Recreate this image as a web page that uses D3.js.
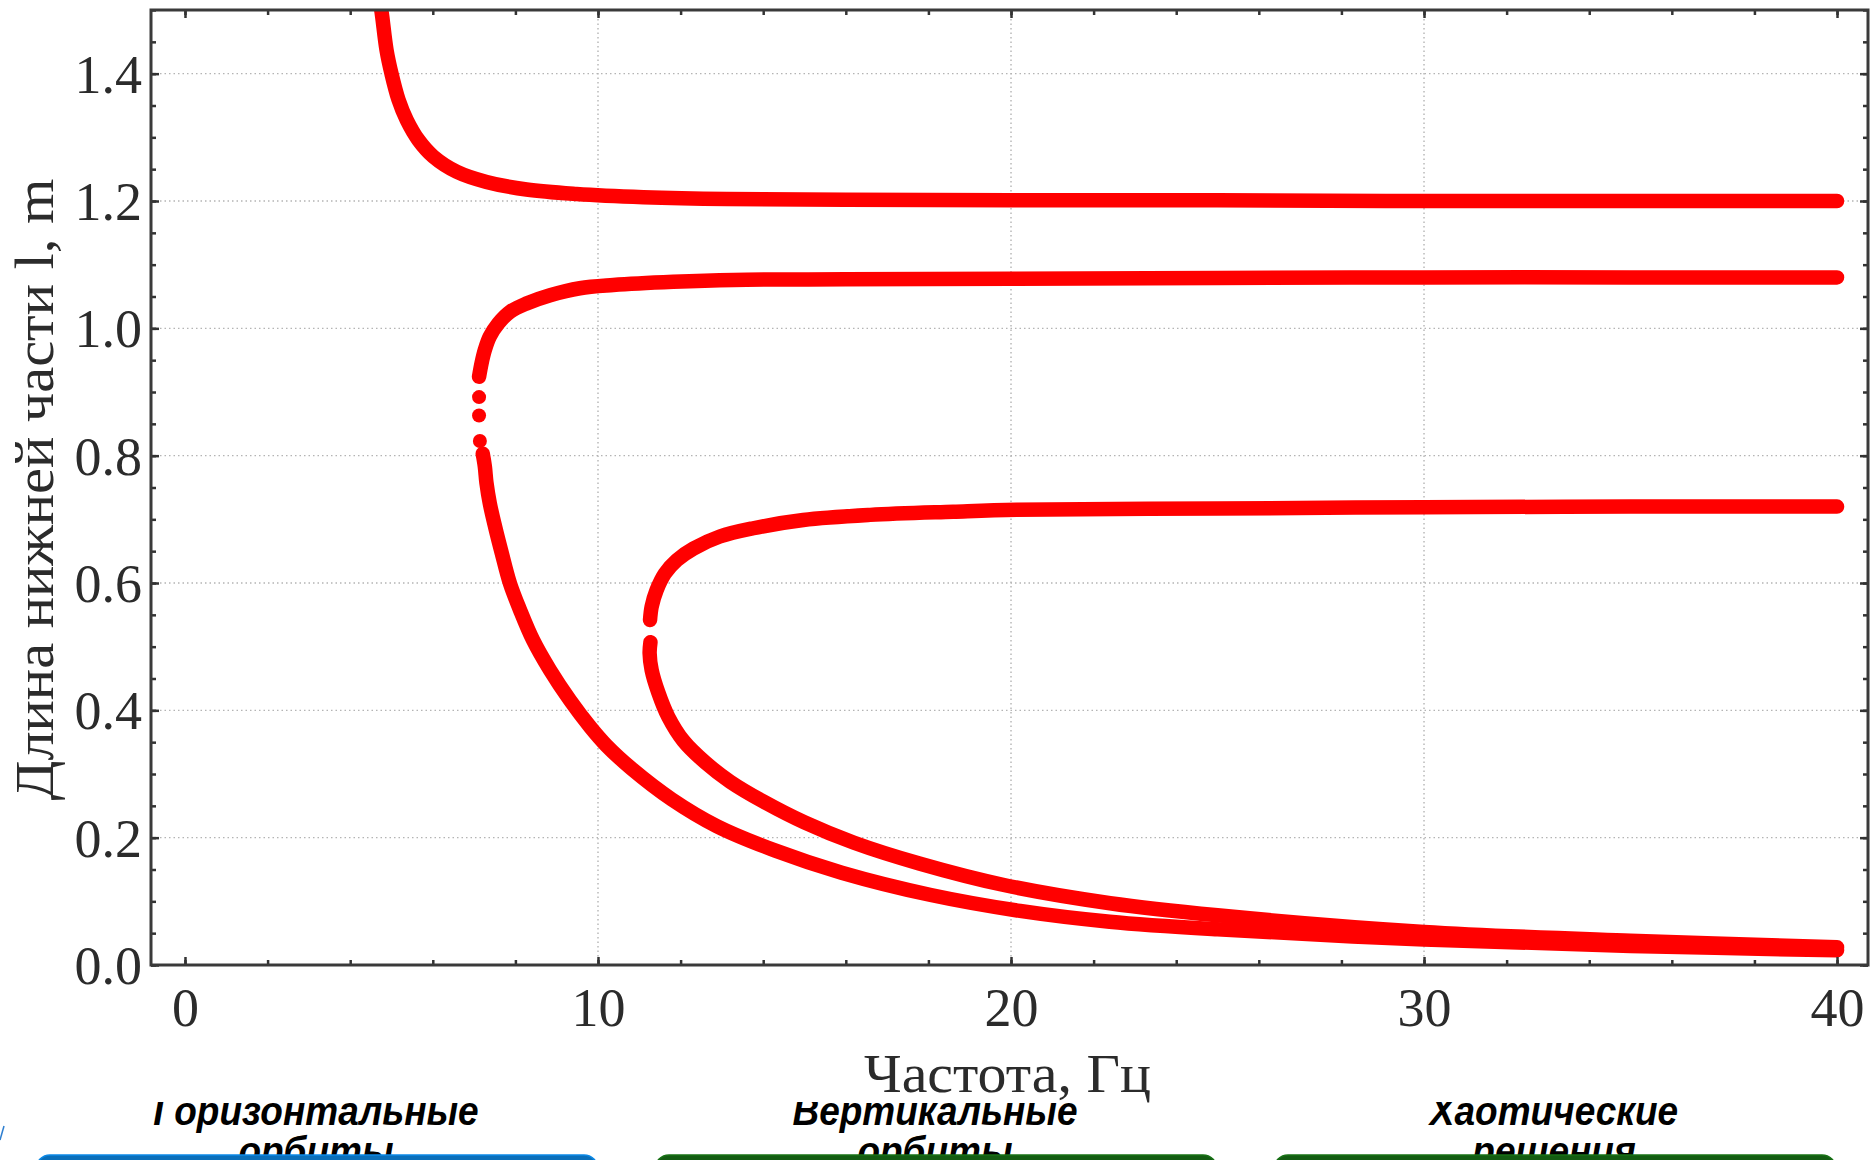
<!DOCTYPE html>
<html lang="ru">
<head>
<meta charset="utf-8">
<title>Длина нижней части от частоты</title>
<script src="https://d3js.org/d3.v7.min.js"></script>
<style>
  body { margin: 0; background: #fff; }
  svg { display: block; }
</style>
</head>
<body>
<script>

// Values: [частота, Гц ; длина l, m]

var branchTop = [[4.70,1.52],[4.76,1.497],[4.88,1.437],[5.00,1.400],[5.17,1.359],[5.37,1.327],[5.65,1.296],
  [6.01,1.270],[6.58,1.246],[7.30,1.230],[8.27,1.218],[9.48,1.211],[11.10,1.206],[13.12,1.203],
  [16,1.202],[20,1.201],[25,1.201],[30,1.200],[35,1.200],[40,1.200]];

var branchMidUpper = [[7.12,0.924],[7.18,0.945],[7.26,0.966],[7.38,0.987],[7.59,1.008],[7.87,1.026],
  [8.27,1.039],[8.84,1.052],[9.56,1.063],[10.37,1.068],[11.82,1.073],[13.28,1.076],[16,1.077],
  [20,1.078],[25,1.079],[30,1.080],[35,1.080],[40,1.080]];

var midGapDots = [[7.12,0.892],[7.12,0.863],[7.14,0.823]];

var branchMidLower = [[7.21,0.803],[7.26,0.783],[7.30,0.757],[7.38,0.725],[7.51,0.688],[7.67,0.647],
  [7.87,0.599],[8.11,0.558],[8.43,0.510],[8.84,0.463],[9.32,0.416],[9.81,0.374],[10.2,0.345],
  [10.82,0.308],[11.79,0.260],[12.88,0.218],[14.28,0.180],[15.90,0.145],[18.06,0.110],[20.22,0.085],
  [22.39,0.068],[25,0.056],[30,0.040],[35,0.030],[40,0.023]];

var branchLowUpper = [[11.26,0.542],[11.30,0.563],[11.42,0.589],[11.62,0.615],[11.91,0.636],[12.31,0.654],
  [12.95,0.673],[13.76,0.686],[14.97,0.699],[16.59,0.707],[18.60,0.712],[20.14,0.715],[25,0.717],
  [30,0.719],[35,0.720],[40,0.720]];

var branchLowLower = [[11.27,0.507],[11.25,0.490],[11.30,0.463],[11.46,0.428],[11.70,0.390],[12.07,0.352],
  [12.6,0.318],[13.2,0.288],[14.0,0.257],[15.0,0.224],[16.2,0.192],[17.8,0.159],[19.8,0.126],
  [22.4,0.097],[25,0.078],[30,0.052],[35,0.038],[40,0.028]];

var xTicks = [0, 10, 20, 30, 40];
var yTicks = [0, 0.2, 0.4, 0.6, 0.8, 1.0, 1.2, 1.4];
var xGrid = [10, 20, 30];
var yGrid = [0.2, 0.4, 0.6, 0.8, 1.0, 1.2, 1.4];

var xTitle = "Частота, Гц";
var yTitle = "Длина нижней части l, m";

var boxLines = [["Горизонтальные", "орбиты"], ["Вертикальные", "орбиты"], ["Хаотические", "решения"]];
var boxColors = ["#0a6fba", "#135c12", "#135c12"];

// Layout

var W = 1871, H = 1160;
var plot = {left: 151, right: 1868, top: 10, bottom: 965};

var svg = d3.select("body")
  .append("svg")
    .attr("width", W)
    .attr("height", H);

var x = d3.scaleLinear().domain([-0.823, 40.75]).range([plot.left, plot.right]);
var y = d3.scaleLinear().domain([0, 1.5]).range([plot.bottom, plot.top]);

// captions under the chart (their tops are hidden by the chart picture)

boxLines.forEach(function (lines, i) {
  var cap = svg.append("g")
      .attr("transform", "translate(" + (316 + i * 619) + ",0) scale(0.925,1)")
      .attr("font-family", "'Liberation Sans', Arial, sans-serif")
      .attr("font-weight", "bold")
      .attr("font-style", "italic")
      .attr("font-size", 40)
      .attr("fill", "#000")
      .attr("text-anchor", "middle");
  cap.append("text").attr("x", 0).attr("y", 1125).text(lines[0]);
  cap.append("text").attr("x", 0).attr("y", 1165).text(lines[1]);
});

svg.append("line")
    .attr("x1", 0).attr("y1", 1140).attr("x2", 4).attr("y2", 1126)
    .attr("stroke", "#2f7fd0").attr("stroke-width", 1.5);

svg.append("rect")
    .attr("x", 0).attr("y", 0)
    .attr("width", W).attr("height", 1102)
    .attr("fill", "#fff");

// grid

var grid = svg.append("g")
    .attr("stroke", "#b4b4b4")
    .attr("stroke-width", 1.4)
    .attr("stroke-dasharray", "1.5,3");

grid.selectAll(".gx").data(xGrid).enter().append("line")
    .attr("x1", d => x(d)).attr("x2", d => x(d))
    .attr("y1", plot.top).attr("y2", plot.bottom);

grid.selectAll(".gy").data(yGrid).enter().append("line")
    .attr("x1", plot.left).attr("x2", plot.right)
    .attr("y1", d => y(d)).attr("y2", d => y(d));

// curves

svg.append("clipPath").attr("id", "clip")
  .append("rect")
    .attr("x", plot.left).attr("y", plot.top)
    .attr("width", plot.right - plot.left).attr("height", plot.bottom - plot.top);

var line = d3.line()
    .x(d => x(d[0]))
    .y(d => y(d[1]))
    .curve(d3.curveCatmullRom.alpha(0.5));

var curves = svg.append("g").attr("clip-path", "url(#clip)");

curves.selectAll("path")
    .data([branchTop, branchMidUpper, branchMidLower, branchLowUpper, branchLowLower])
  .enter().append("path")
    .attr("d", line)
    .attr("fill", "none")
    .attr("stroke", "#ff0000")
    .attr("stroke-width", 14.5)
    .attr("stroke-linecap", "round")
    .attr("stroke-linejoin", "round");

curves.selectAll("circle")
    .data(midGapDots)
  .enter().append("circle")
    .attr("cx", d => x(d[0]))
    .attr("cy", d => y(d[1]))
    .attr("r", 7)
    .attr("fill", "#ff0000");

// axes: ticks point inward on all four sides

function styleAxis(g) {
  g.select(".domain").remove();
  g.selectAll(".tick line").attr("stroke", "#333").attr("stroke-width", 2.5);
  g.selectAll("text")
      .attr("font-family", "'Liberation Serif', 'Times New Roman', serif")
      .attr("font-size", 54)
      .attr("fill", "#2b2b2b");
}

var xMinor = d3.range(0, 41, 2);
var yMinor = d3.range(0, 1.501, 0.05);

svg.append("g")
    .attr("transform", "translate(0," + plot.bottom + ")")
    .call(d3.axisBottom(x).tickValues(xMinor).tickSize(-5).tickSizeOuter(0).tickFormat(""))
    .call(styleAxis);

svg.append("g")
    .attr("transform", "translate(0," + plot.top + ")")
    .call(d3.axisTop(x).tickValues(xMinor).tickSize(-5).tickSizeOuter(0).tickFormat(""))
    .call(styleAxis);

svg.append("g")
    .attr("transform", "translate(" + plot.left + ",0)")
    .call(d3.axisLeft(y).tickValues(yMinor).tickSize(-5).tickSizeOuter(0).tickFormat(""))
    .call(styleAxis);

svg.append("g")
    .attr("transform", "translate(" + plot.right + ",0)")
    .call(d3.axisRight(y).tickValues(yMinor).tickSize(-5).tickSizeOuter(0).tickFormat(""))
    .call(styleAxis);

var xAxis = svg.append("g")
    .attr("transform", "translate(0," + plot.bottom + ")")
    .call(d3.axisBottom(x).tickValues(xTicks).tickSize(-8).tickSizeOuter(0).tickFormat(d3.format("d")))
    .call(styleAxis);
xAxis.selectAll("text").attr("y", 61).attr("dy", 0);

svg.append("g")
    .attr("transform", "translate(0," + plot.top + ")")
    .call(d3.axisTop(x).tickValues(xTicks).tickSize(-8).tickSizeOuter(0).tickFormat(""))
    .call(styleAxis);

var yAxis = svg.append("g")
    .attr("transform", "translate(" + plot.left + ",0)")
    .call(d3.axisLeft(y).tickValues(yTicks).tickSize(-8).tickSizeOuter(0).tickPadding(9).tickFormat(d3.format(".1f")))
    .call(styleAxis);
yAxis.selectAll("text").attr("dy", "0.34em");

svg.append("g")
    .attr("transform", "translate(" + plot.right + ",0)")
    .call(d3.axisRight(y).tickValues(yTicks).tickSize(-8).tickSizeOuter(0).tickFormat(""))
    .call(styleAxis);

// frame

svg.append("rect")
    .attr("x", plot.left).attr("y", plot.top)
    .attr("width", plot.right - plot.left).attr("height", plot.bottom - plot.top)
    .attr("fill", "none")
    .attr("stroke", "#3a3a3a")
    .attr("stroke-width", 3);

// titles

svg.append("text")
    .attr("x", (plot.left + plot.right) / 2 - 2)
    .attr("y", 1092)
    .attr("text-anchor", "middle")
    .attr("font-family", "'Liberation Serif', 'Times New Roman', serif")
    .attr("font-size", 54)
    .attr("fill", "#2b2b2b")
    .attr("textLength", 287)
    .attr("lengthAdjust", "spacingAndGlyphs")
    .text(xTitle);

svg.append("text")
    .attr("transform", "translate(53," + ((plot.top + plot.bottom) / 2 + 2) + ") rotate(-90)")
    .attr("text-anchor", "middle")
    .attr("font-family", "'Liberation Serif', 'Times New Roman', serif")
    .attr("font-size", 54)
    .attr("fill", "#2b2b2b")
    .attr("textLength", 622)
    .attr("lengthAdjust", "spacingAndGlyphs")
    .text(yTitle);

// coloured boxes at the bottom edge

svg.selectAll(".box")
    .data(boxColors)
  .enter().append("rect")
    .attr("x", (d, i) => 36 + i * 619)
    .attr("y", 1155)
    .attr("width", 562)
    .attr("height", 40)
    .attr("rx", 14)
    .attr("fill", d => d)
    .attr("stroke", d => d3.color(d).brighter(0.6))
    .attr("stroke-width", 1.5);

</script>
</body>
</html>
